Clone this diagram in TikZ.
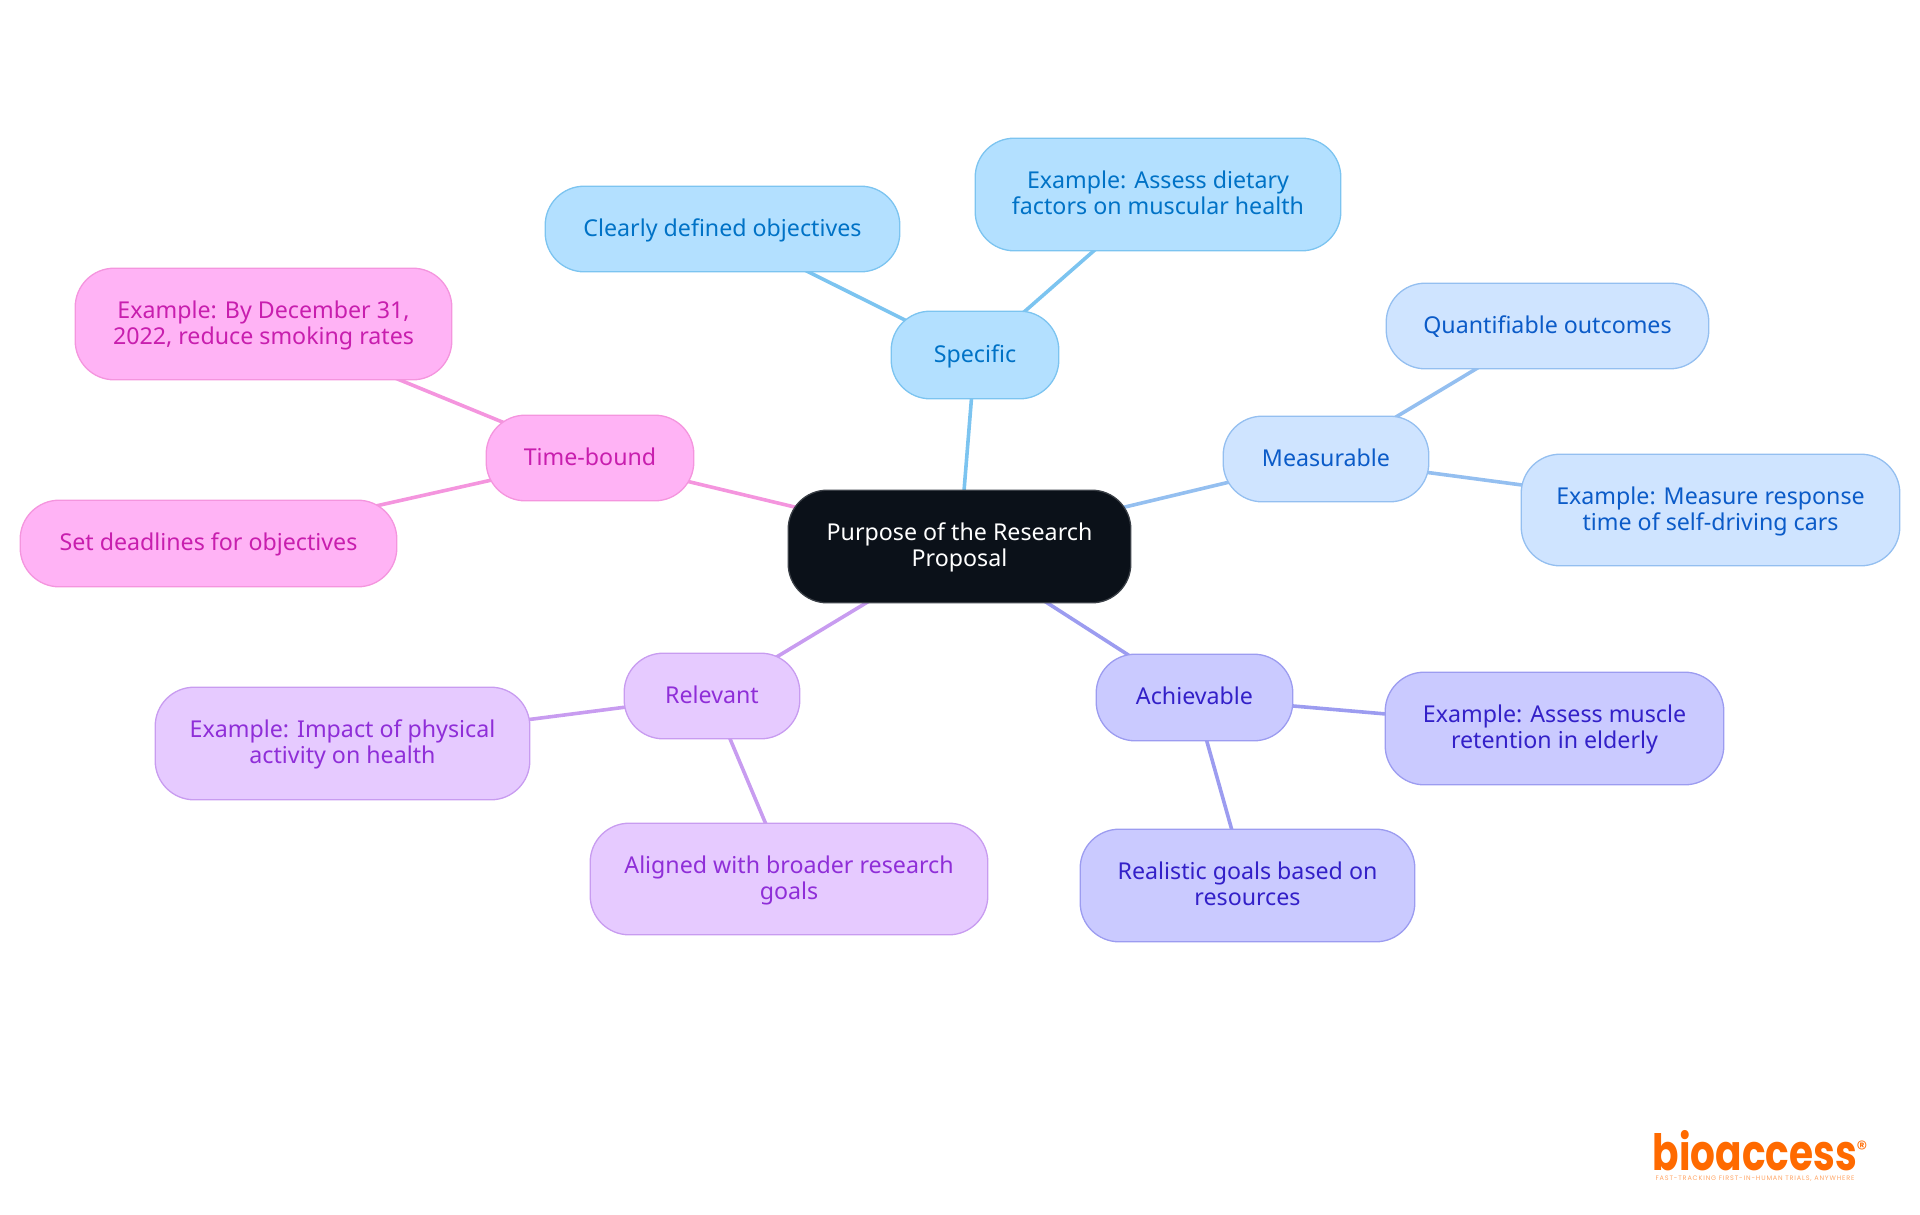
\documentclass[tikz,border=0pt]{standalone}
\usepackage{fontspec}
\setmainfont{Noto Sans}
\newfontfamily\logofont[FakeStretch=0.78]{Poppins}
\newfontfamily\regfont{Poppins}
\newfontfamily\tagfont[LetterSpace=13]{Poppins}
\usetikzlibrary{backgrounds}
\definecolor{cS}{HTML}{B3E0FF}\definecolor{dS}{HTML}{7CC4F0}\definecolor{tS}{HTML}{0072C6}
\definecolor{cM}{HTML}{CFE4FF}\definecolor{dM}{HTML}{94BFF0}\definecolor{tM}{HTML}{0B5BC8}
\definecolor{cA}{HTML}{CACAFF}\definecolor{dA}{HTML}{9C9CF0}\definecolor{tA}{HTML}{3320C8}
\definecolor{cR}{HTML}{E6CAFF}\definecolor{dR}{HTML}{C89CF0}\definecolor{tR}{HTML}{8F2ED8}
\definecolor{cT}{HTML}{FFB3F5}\definecolor{dT}{HTML}{F495DE}\definecolor{tT}{HTML}{C81EAE}
\definecolor{cRoot}{HTML}{0B1119}\definecolor{dRoot}{HTML}{3A3F46}
\definecolor{logoO}{HTML}{FF6A00}
\newcommand{\twolines}[2]{\rule{0pt}{22pt}#1\\#2\rule[-7.6pt]{0pt}{7.6pt}}
\tikzset{
  base/.style={rectangle,rounded corners=39pt,line width=1.3pt,align=center,inner sep=0pt,
    font=\fontsize{23.2}{26}\selectfont},
  sz/.style n args={2}{minimum width=#1pt-0.4pt,minimum height=#2pt-0.4pt},
  nS/.style={base,fill=cS,draw=dS,text=tS},
  nM/.style={base,fill=cM,draw=dM,text=tM},
  nA/.style={base,fill=cA,draw=dA,text=tA},
  nR/.style={base,fill=cR,draw=dR,text=tR},
  nT/.style={base,fill=cT,draw=dT,text=tT},
  nRoot/.style={base,fill=cRoot,draw=dRoot,text=white},
  edge/.style={line width=3.6pt},
}
\newcommand{\oneline}[1]{\rule{0pt}{22pt}#1\rule[-7.6pt]{0pt}{7.6pt}}
\begin{document}
\begin{tikzpicture}[x=1pt,y=-1pt]
\useasboundingbox (0,0) rectangle (1920,1215);
\node[nRoot,sz={343}{113}] (root) at (959.5,546.5) {\twolines{Purpose of the Research}{Proposal}};
\node[nS,sz={168}{88}] (spec) at (975,355) {\oneline{Specific}};
\node[nS,sz={366}{113}] (dietary) at (1158,194.5) {\twolines{Example: Assess dietary}{factors on muscular health}};
\node[nS,sz={355}{86}] (clear) at (722.5,229) {\oneline{Clearly defined objectives}};
\node[nM,sz={206}{86}] (meas) at (1326,459) {\oneline{Measurable}};
\node[nM,sz={323}{86}] (quant) at (1547.5,326) {\oneline{Quantifiable outcomes}};
\node[nM,sz={379}{112}] (measex) at (1710.5,510) {\twolines{Example: Measure response}{time of self-driving cars}};
\node[nA,sz={197}{87}] (ach) at (1194.5,697.5) {\oneline{Achievable}};
\node[nA,sz={339}{113}] (achex) at (1554.5,728.5) {\twolines{Example: Assess muscle}{retention in elderly}};
\node[nA,sz={335}{113}] (real) at (1247.5,885.5) {\twolines{Realistic goals based on}{resources}};
\node[nR,sz={176}{86}] (rel) at (712,696) {\oneline{Relevant}};
\node[nR,sz={375}{113}] (relex) at (342.5,743.5) {\twolines{Example: Impact of physical}{activity on health}};
\node[nR,sz={398}{112}] (align) at (789,879) {\twolines{Aligned with broader research}{goals}};
\node[nT,sz={208}{86}] (time) at (590,458) {\oneline{Time-bound}};
\node[nT,sz={377}{112}] (timeex) at (263.5,324) {\twolines{Example: By December 31,}{2022, reduce smoking rates}};
\node[nT,sz={377}{87}] (setd) at (208.5,543.5) {\oneline{Set deadlines for objectives}};
\begin{scope}[on background layer]
\draw[edge,dS] (root.center)--(spec.center);
\draw[edge,dS] (spec.center)--(dietary.center);
\draw[edge,dS] (spec.center)--(clear.center);
\draw[edge,dM] (root.center)--(meas.center);
\draw[edge,dM] (meas.center)--(quant.center);
\draw[edge,dM] (meas.center)--(measex.center);
\draw[edge,dA] (root.center)--(ach.center);
\draw[edge,dA] (ach.center)--(achex.center);
\draw[edge,dA] (ach.center)--(real.center);
\draw[edge,dR] (root.center)--(rel.center);
\draw[edge,dR] (rel.center)--(relex.center);
\draw[edge,dR] (rel.center)--(align.center);
\draw[edge,dT] (root.center)--(time.center);
\draw[edge,dT] (time.center)--(timeex.center);
\draw[edge,dT] (time.center)--(setd.center);
\end{scope}
\node[text=logoO,inner sep=0pt,anchor=base,font=\logofont\bfseries\fontsize{50}{50}\selectfont] (logo) at (1755,1170) {bioaccess};
\node[text=logoO,inner sep=0pt,anchor=base,font=\regfont\fontsize{22}{22}\selectfont] (logor) at (1862,1156) {®};
\node[text=logoO!60,inner sep=0pt,anchor=base,font=\tagfont\fontsize{6.5}{7}\selectfont] (logot) at (1755,1180) {FAST-TRACKING FIRST-IN-HUMAN TRIALS, ANYWHERE};
\end{tikzpicture}
\end{document}
